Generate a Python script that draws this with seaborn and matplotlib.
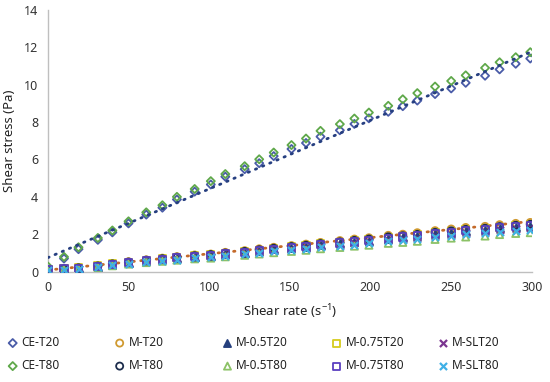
import numpy as np
import pandas as pd
import matplotlib
matplotlib.use("Agg")
import matplotlib.pyplot as plt
import seaborn as sns

# shear rate (1/s)
shear_rate = [0.1, 10, 19, 31, 40, 50, 61, 71, 80, 91, 101, 110, 122, 131, 140, 151,
              160, 169, 181, 190, 199, 211, 220, 229, 240, 250, 259, 271, 280, 290, 299]

# shear stress (Pa) per sample
ce_t20 = [0.10, 0.70, 1.20, 1.70, 2.10, 2.58, 3.05, 3.42, 3.86, 4.28, 4.66, 5.08, 5.48, 5.80, 6.18, 6.56,
          6.88, 7.22, 7.56, 7.90, 8.20, 8.55, 8.85, 9.15, 9.50, 9.80, 10.10, 10.48, 10.82, 11.12, 11.40]
ce_t80 = [0.27, 0.79, 1.30, 1.80, 2.20, 2.69, 3.17, 3.55, 4.00, 4.42, 4.84, 5.22, 5.64, 6.01, 6.37, 6.77,
          7.12, 7.53, 7.89, 8.19, 8.51, 8.87, 9.22, 9.55, 9.90, 10.20, 10.50, 10.90, 11.20, 11.47, 11.74]
m_t20 = [0.10, 0.16, 0.22, 0.31, 0.43, 0.53, 0.63, 0.72, 0.80, 0.89, 0.94, 1.03, 1.12, 1.22, 1.30, 1.39,
         1.47, 1.56, 1.66, 1.74, 1.81, 1.94, 2.00, 2.08, 2.19, 2.28, 2.36, 2.42, 2.51, 2.58, 2.63]
m_t80 = [0.09, 0.15, 0.20, 0.30, 0.41, 0.51, 0.61, 0.69, 0.77, 0.85, 0.91, 0.99, 1.08, 1.17, 1.25, 1.34,
         1.41, 1.50, 1.59, 1.67, 1.74, 1.86, 1.92, 1.99, 2.10, 2.18, 2.26, 2.32, 2.41, 2.48, 2.53]
m05_t20 = [0.08, 0.13, 0.18, 0.27, 0.37, 0.48, 0.57, 0.65, 0.72, 0.80, 0.86, 0.93, 1.02, 1.10, 1.19, 1.27,
           1.34, 1.42, 1.51, 1.59, 1.66, 1.77, 1.84, 1.90, 2.01, 2.09, 2.17, 2.23, 2.32, 2.39, 2.44]
m05_t80 = [0.06, 0.10, 0.14, 0.22, 0.31, 0.40, 0.48, 0.55, 0.61, 0.68, 0.72, 0.79, 0.87, 0.94, 1.01, 1.08,
           1.14, 1.22, 1.29, 1.36, 1.41, 1.51, 1.56, 1.62, 1.72, 1.79, 1.85, 1.90, 1.98, 2.04, 2.08]
m075_t20 = [0.10, 0.15, 0.21, 0.30, 0.41, 0.51, 0.60, 0.69, 0.76, 0.84, 0.89, 0.97, 1.06, 1.15, 1.23, 1.32,
            1.39, 1.48, 1.57, 1.65, 1.71, 1.83, 1.89, 1.96, 2.07, 2.15, 2.23, 2.29, 2.38, 2.45, 2.50]
m075_t80 = [0.09, 0.14, 0.19, 0.28, 0.39, 0.49, 0.58, 0.66, 0.73, 0.81, 0.86, 0.94, 1.03, 1.12, 1.20, 1.28,
            1.35, 1.44, 1.53, 1.61, 1.67, 1.79, 1.85, 1.92, 2.03, 2.11, 2.19, 2.25, 2.34, 2.41, 2.46]
msl_t20 = [0.07, 0.11, 0.16, 0.24, 0.35, 0.44, 0.53, 0.61, 0.67, 0.75, 0.80, 0.87, 0.96, 1.04, 1.12, 1.20,
           1.26, 1.35, 1.43, 1.51, 1.57, 1.68, 1.74, 1.80, 1.91, 1.98, 2.06, 2.12, 2.20, 2.27, 2.31]
msl_t80 = [0.06, 0.10, 0.15, 0.22, 0.33, 0.42, 0.50, 0.58, 0.64, 0.72, 0.76, 0.83, 0.92, 1.00, 1.08, 1.15,
           1.21, 1.30, 1.38, 1.45, 1.51, 1.62, 1.67, 1.74, 1.84, 1.91, 1.99, 2.04, 2.12, 2.19, 2.23]

# (label, values, marker, colour, filled) -- Excel series order (T20 row first)
series = [
    ("CE-T20", ce_t20, "D", "#4a5ca8", False),
    ("M-T20", m_t20, "o", "#d09a30", False),
    ("M-0.5T20", m05_t20, "^", "#26407e", True),
    ("M-0.75T20", m075_t20, "s", "#d6cc1c", False),
    ("M-SLT20", msl_t20, "x", "#7b3590", False),
    ("CE-T80", ce_t80, "D", "#5fa84a", False),
    ("M-T80", m_t80, "o", "#1c2c4c", False),
    ("M-0.5T80", m05_t80, "^", "#8cc266", False),
    ("M-0.75T80", m075_t80, "s", "#5a3fc0", False),
    ("M-SLT80", msl_t80, "x", "#3fb0e6", False),
]

sns.set_style("white")
plt.rcParams["font.family"] = ["Noto Sans", "DejaVu Sans"]
plt.rcParams["mathtext.default"] = "regular"

fig = plt.figure(figsize=(5.5, 3.82), dpi=100)
ax = fig.add_axes([0.087, 0.289, 0.88, 0.685])
ax.set_xlim(0, 300)
ax.set_ylim(0, 14)

for label, vals, mk, col, filled in series:
    df = pd.DataFrame({"rate": shear_rate, "stress": vals})
    size = 17 if mk == "D" else 26
    if mk == "x":
        sns.scatterplot(data=df, x="rate", y="stress", marker=mk, color=col, s=size,
                        linewidth=1.6, ax=ax, label=label, zorder=3)
    else:
        fc = col if filled else "none"
        sns.scatterplot(data=df, x="rate", y="stress", marker=mk, s=size, ax=ax, label=label,
                        facecolor=fc, edgecolor=col, linewidth=1.3, zorder=3)

# linear trendlines
dot = (0, (0.5, 2.3))
sns.regplot(x=shear_rate, y=ce_t20, scatter=False, ci=None, truncate=False, ax=ax,
            line_kws=dict(color="#263f80", lw=2.0, ls=dot, dash_capstyle="round", zorder=4))
sns.regplot(x=shear_rate, y=m_t20, scatter=False, ci=None, truncate=False, ax=ax,
            line_kws=dict(color="#c46a2a", lw=2.0, ls=dot, dash_capstyle="round", zorder=2))

ax.set_xlim(0, 300)
ax.set_ylim(0, 14)
ax.set_xticks(range(0, 301, 50))
ax.set_yticks(range(0, 15, 2))
ax.tick_params(length=0, labelsize=9, colors="#333333", pad=7)
for side in ["top", "right"]:
    ax.spines[side].set_visible(False)
for side in ["left", "bottom"]:
    ax.spines[side].set_color("#bfbfbf")
    ax.spines[side].set_linewidth(1)
ax.set_xlabel("Shear rate (s$^{-1}$)", fontsize=9.5, color="#222222", labelpad=6)
ax.set_ylabel("Shear stress (Pa)", fontsize=9.5, color="#222222", labelpad=6)

h, l = ax.get_legend_handles_labels()
ax.get_legend().remove()
lookup = dict(zip(l, h))

# five legend columns, two rows each (T20 above T80)
col_x = [0.0145, 0.209, 0.405, 0.604, 0.796]
pairs = [("CE-T20", "CE-T80"), ("M-T20", "M-T80"), ("M-0.5T20", "M-0.5T80"),
         ("M-0.75T20", "M-0.75T80"), ("M-SLT20", "M-SLT80")]
for xpos, (a, b) in zip(col_x, pairs):
    fig.legend([lookup[a], lookup[b]], [a, b], loc="upper left",
               bbox_to_anchor=(xpos, 0.12), frameon=False, fontsize=8.5,
               handlelength=0.8, handletextpad=0.35, labelspacing=0.85,
               borderaxespad=0, borderpad=0, labelcolor="#222222")

fig.savefig("out.png", dpi=100)
